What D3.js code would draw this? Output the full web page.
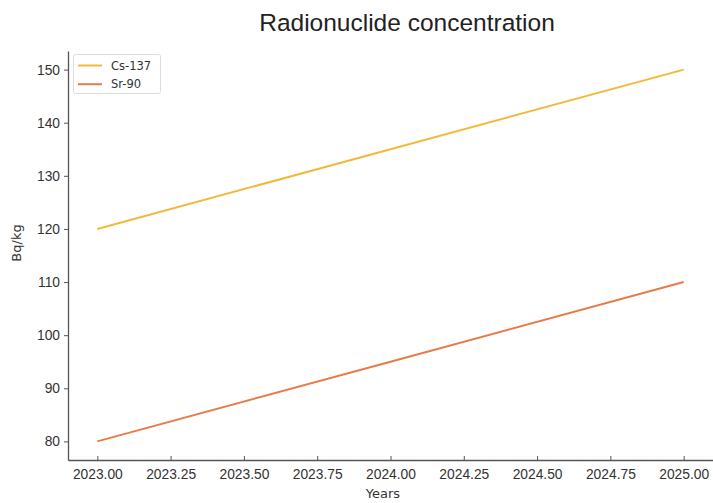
<!DOCTYPE html>
<html>
<head>
<meta charset="utf-8">
<script src="https://cdn.jsdelivr.net/npm/d3@7/dist/d3.min.js"></script>
<style>
  html, body { margin: 0; padding: 0; background: #fff; }
  svg { display: block; font-family: "DejaVu Sans", "Liberation Sans", sans-serif; }
</style>
</head>
<body>
<svg id="chart" width="713" height="503"></svg>
<script>
const years = [2023, 2024, 2025];
const cs137 = [120, 135, 150];
const sr90 = [80, 95, 110];
const seriesNames = ["Cs-137", "Sr-90"];
const seriesColors = ["#f2b93c", "#e87a4a"];
const xTicks = [2023.00, 2023.25, 2023.50, 2023.75, 2024.00, 2024.25, 2024.50, 2024.75, 2025.00];
const yTicks = [80, 90, 100, 110, 120, 130, 140, 150];

const svg = d3.select("#chart");
const mLeft = 68, mRight = 713, mTop = 51, mBottom = 460;

const x = d3.scaleLinear().domain([2022.9, 2025.1]).range([mLeft, mRight]);
const y = d3.scaleLinear().domain([76.5, 153.5]).range([mBottom, mTop]);

// Title
svg.append("text")
  .attr("x", 407).attr("y", 31)
  .attr("text-anchor", "middle")
  .attr("font-family", "'Liberation Sans', Arial, sans-serif")
  .attr("font-size", 24.5)
  .attr("fill", "#222")
  .text("Radionuclide concentration");

// X axis (ticks pointing inward)
const xAxis = svg.append("g")
  .attr("transform", `translate(0,${mBottom})`)
  .call(d3.axisBottom(x).tickValues(xTicks).tickFormat(d3.format(".2f")).tickSizeInner(-4).tickSizeOuter(0).tickPadding(9));
xAxis.select(".domain").attr("stroke", "#555").attr("stroke-width", 1.3);
xAxis.selectAll(".tick line").attr("stroke", "#555");
xAxis.selectAll(".tick text").attr("font-size", 13.8).attr("fill", "#333");

// Y axis (ticks outward)
const yAxis = svg.append("g")
  .attr("transform", `translate(${mLeft},0)`)
  .call(d3.axisLeft(y).tickValues(yTicks).tickSizeInner(4).tickSizeOuter(0).tickPadding(4));
yAxis.select(".domain").attr("stroke", "#555").attr("stroke-width", 1.3);
yAxis.selectAll(".tick line").attr("stroke", "#555");
yAxis.selectAll(".tick text").attr("font-size", 13.8).attr("fill", "#333");

// Axis labels
svg.append("text")
  .attr("x", 383).attr("y", 498)
  .attr("text-anchor", "middle")
  .attr("font-size", 13)
  .attr("fill", "#333")
  .text("Years");
svg.append("text")
  .attr("transform", "translate(21,243) rotate(-90)")
  .attr("text-anchor", "middle")
  .attr("font-size", 13)
  .attr("fill", "#333")
  .text("Bq/kg");

// Lines
const seriesData = [cs137, sr90];
const line = d3.line().x((d, i) => x(years[i])).y(d => y(d));
seriesData.forEach((vals, k) => {
  svg.append("path")
    .datum(vals)
    .attr("fill", "none")
    .attr("stroke", seriesColors[k])
    .attr("stroke-width", 2)
    .attr("d", line);
});

// Legend
const lg = svg.append("g");
lg.append("rect")
  .attr("x", 73.5).attr("y", 54.5).attr("width", 87).attr("height", 39)
  .attr("rx", 2)
  .attr("fill", "#fff").attr("stroke", "#ddd");
seriesNames.forEach((name, k) => {
  const yy = 65.5 + k * 18.7;
  lg.append("line")
    .attr("x1", 78).attr("x2", 102).attr("y1", yy).attr("y2", yy)
    .attr("stroke", seriesColors[k]).attr("stroke-width", 2);
  lg.append("text")
    .attr("x", 111).attr("y", yy + 4)
    .attr("font-size", 11.5)
    .attr("fill", "#333")
    .text(name);
});
</script>
</body>
</html>
